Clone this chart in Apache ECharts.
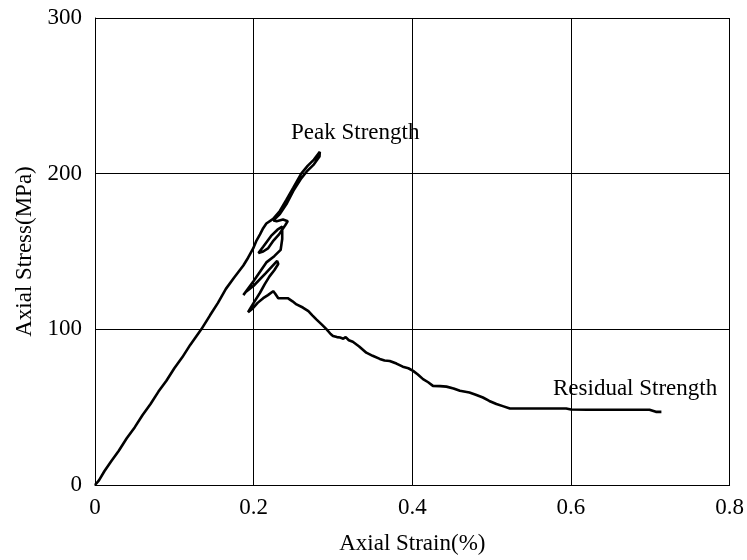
<!DOCTYPE html>
<html>
<head>
<meta charset="utf-8">
<script src="https://cdn.jsdelivr.net/npm/echarts@6/dist/echarts.min.js"></script>
<style>
  html, body { margin: 0; padding: 0; background: #fff; }
  #chart { width: 747px; height: 560px; }
</style>
</head>
<body>
<div id="chart"></div>
<script>
// axial strain (%), in drawing order
const strain = [
  0, 0.005, 0.012, 0.02, 0.03, 0.04, 0.05, 0.06, 0.07, 0.08, 0.09, 0.10, 0.11, 0.12, 0.134,
  0.145, 0.155, 0.165, 0.175, 0.187, 0.193, 0.1994, 0.2036, 0.208, 0.212, 0.216, 0.2246, 0.233,
  0.241, 0.25, 0.26, 0.268, 0.276, 0.2834,
  // post peak, snap back loops
  0.283, 0.276, 0.268, 0.26, 0.25, 0.242, 0.233, 0.225, 0.229, 0.237, 0.243, 0.24, 0.232, 0.225,
  0.218, 0.212, 0.206, 0.212, 0.222, 0.23, 0.236, 0.236, 0.234, 0.226, 0.216, 0.2, 0.187, 0.185,
  0.19, 0.2, 0.215, 0.2296, 0.231, 0.226, 0.22, 0.214, 0.208, 0.2, 0.195, 0.193, 0.198, 0.205,
  0.212, 0.218, 0.2246, 0.227, 0.231, 0.237, 0.243, 0.249, 0.254, 0.262, 0.269, 0.274, 0.279,
  0.286, 0.292, 0.297, 0.300, 0.305, 0.309, 0.313, 0.316, 0.32, 0.325, 0.333, 0.342, 0.35, 0.359,
  0.365, 0.3715, 0.38, 0.388, 0.395, 0.401, 0.407, 0.4135, 0.42, 0.426, 0.435, 0.443, 0.452, 0.46,
  0.472, 0.48, 0.489, 0.497, 0.506, 0.515, 0.523, 0.54, 0.56, 0.58, 0.594, 0.6, 0.62, 0.65, 0.68,
  0.699, 0.707, 0.714
];
// axial stress (MPa), same order
const stress = [
  0, 3, 9, 15, 22, 30, 37, 45, 52, 60, 67, 75, 82, 90, 100,
  109, 117, 126, 133, 141, 146, 152, 157, 161, 165, 168, 171, 176,
  183, 191, 200, 205, 209, 214,
  211, 206, 202, 197, 189, 181, 174, 170, 169.5, 170.5, 169.5, 167, 161, 157,
  152, 150, 149, 153, 160, 164, 166, 158, 151, 147, 143, 131, 122, 121,
  124, 128, 136, 144, 142, 138, 134, 129, 123.5, 117, 112.8, 111, 113, 117,
  120, 122, 124.5, 123, 120, 120, 120, 118, 116, 114, 111.7, 109, 106.4,
  103, 100, 97, 95.7, 95, 94.7, 94, 95, 93, 92, 89, 85, 83, 81,
  80, 79.7, 78, 76, 75, 73.3, 71, 68, 66, 63.7, 63.5, 63.2, 62, 60.5,
  59.4, 58, 56.2, 54, 52, 50.5, 49.1, 49.1, 49.1, 49.1, 49.1, 48.5, 48.3, 48.3, 48.3,
  48.3, 47, 47
];

const xTicks = [0, 0.2, 0.4, 0.6, 0.8];
const yTicks = [0, 100, 200, 300];
const notes = ['Peak Strength', 'Residual Strength'];

const font = 'Liberation Serif, Times New Roman, serif';

function buildOption() {
  const points = strain.map((s, i) => [s, stress[i]]);
  return {
    animation: false,
    backgroundColor: '#fff',
    grid: { left: 95, right: 17, top: 18, bottom: 74 },
    xAxis: {
      type: 'value',
      min: xTicks[0],
      max: xTicks[xTicks.length - 1],
      interval: 0.2,
      name: 'Axial Strain(%)',
      nameLocation: 'middle',
      nameGap: 47,
      nameTextStyle: { fontFamily: font, fontSize: 23, color: '#000' },
      axisLine: { show: true, lineStyle: { color: '#000', width: 1 } },
      axisTick: { show: false },
      axisLabel: {
        fontFamily: font, fontSize: 23, color: '#000', margin: 11,
        formatter: v => String(+v.toFixed(1))
      },
      splitLine: { show: true, lineStyle: { color: '#000', width: 1 } }
    },
    yAxis: {
      type: 'value',
      min: yTicks[0],
      max: yTicks[yTicks.length - 1],
      interval: 100,
      name: 'Axial Stress(MPa)',
      nameLocation: 'middle',
      nameGap: 57,
      nameTextStyle: { fontFamily: font, fontSize: 23, color: '#000' },
      axisLine: { show: true, lineStyle: { color: '#000', width: 1 } },
      axisTick: { show: false },
      axisLabel: { fontFamily: font, fontSize: 23, color: '#000', margin: 13 },
      splitLine: { show: true, lineStyle: { color: '#000', width: 1 } }
    },
    graphic: [
      {
        type: 'text', left: 291, top: 121,
        style: { text: notes[0], font: '23px ' + font, fill: '#000' }
      },
      {
        type: 'text', left: 553, top: 377,
        style: { text: notes[1], font: '23px ' + font, fill: '#000' }
      }
    ],
    series: [
      {
        type: 'line',
        data: points,
        showSymbol: false,
        smooth: false,
        lineStyle: { color: '#000', width: 2.6 }
      }
    ]
  };
}

const myChart = echarts.init(document.getElementById('chart'));
myChart.setOption(buildOption());
</script>
</body>
</html>
